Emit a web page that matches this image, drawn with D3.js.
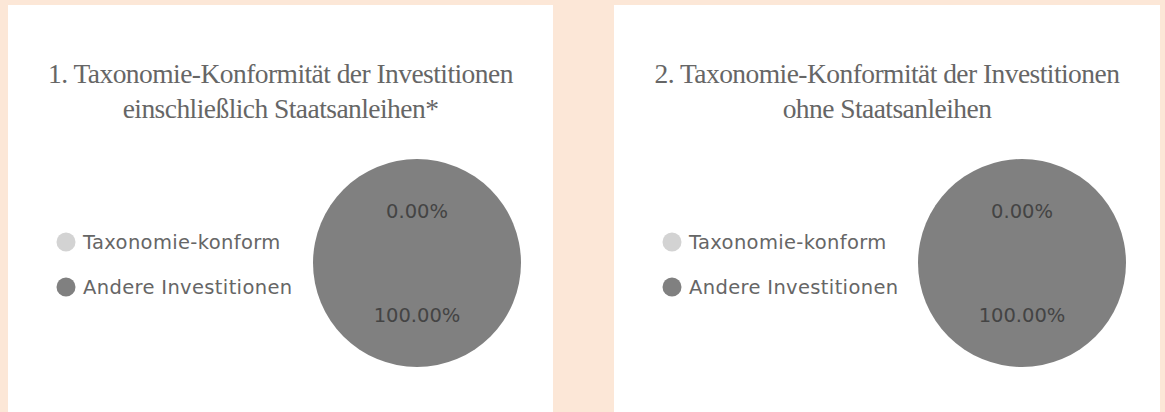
<!DOCTYPE html>
<html>
<head>
<meta charset="utf-8">
<script src="https://cdn.jsdelivr.net/npm/d3@7"></script>
<style>
  html, body { margin: 0; padding: 0; background: #fce7d7; }
  svg { display: block; }
</style>
</head>
<body>
<svg id="chart" width="1165" height="412"></svg>
<script>
// ---- data ----
const categories = ["Taxonomie-konform", "Andere Investitionen"];
const colors = ["#d3d3d3", "#808080"];
const titles = [
  ["1. Taxonomie-Konformität der Investitionen", "einschließlich Staatsanleihen*"],
  ["2. Taxonomie-Konformität der Investitionen", "ohne Staatsanleihen"]
];
const valuesIncl = [0.00, 100.00];
const valuesExcl = [0.00, 100.00];
const seriesValues = [valuesIncl, valuesExcl];

// ---- layout ----
const W = 1165, H = 412;
const svg = d3.select("#chart");
svg.append("rect").attr("width", W).attr("height", H).attr("fill", "#fce7d7");

const panels = [
  { x: 8, y: 5, w: 545, h: 407 },
  { x: 614, y: 5, w: 546, h: 407 }
];

const radius = 104;
const pie = d3.pie().sort(null).value(d => d);
const arc = d3.arc().innerRadius(0).outerRadius(radius);
const color = d3.scaleOrdinal().domain(categories).range(colors);

panels.forEach((p, i) => {
  const g = svg.append("g").attr("transform", `translate(${p.x},${p.y})`);
  g.append("rect").attr("width", p.w).attr("height", p.h).attr("fill", "#ffffff");

  // title
  const t = g.append("text")
    .attr("x", p.w / 2)
    .attr("text-anchor", "middle")
    .attr("font-family", "'Liberation Serif', 'Times New Roman', serif")
    .attr("font-size", 27.5)
    .attr("letter-spacing", -0.55)
    .attr("fill", "#666666");
  titles[i].forEach((line, k) => {
    t.append("tspan").attr("x", p.w / 2).attr("y", 78 + k * 35).text(line);
  });

  // legend
  const lg = g.append("g").attr("transform", "translate(58,237)");
  categories.forEach((c, k) => {
    const row = lg.append("g").attr("transform", `translate(0,${k * 45})`);
    row.append("circle").attr("cx", 0).attr("cy", 0).attr("r", 9.5).attr("fill", color(c));
    row.append("text")
      .attr("x", 17).attr("y", 0).attr("dy", "0.35em")
      .attr("font-family", "'DejaVu Sans', Verdana, sans-serif")
      .attr("font-size", 19.5)
      .attr("letter-spacing", 0.35)
      .attr("fill", "#666666")
      .text(c);
  });

  // pie
  const cx = (i === 0 ? 417 : 1022) - p.x;
  const cy = 263 - p.y;
  const pg = g.append("g").attr("transform", `translate(${cx},${cy})`);
  const arcs = pie(seriesValues[i]);
  pg.selectAll("path").data(arcs).join("path")
    .attr("d", arc)
    .attr("fill", (d, k) => color(categories[k]));
  pg.selectAll("text").data(arcs).join("text")
    .attr("transform", d => `translate(${arc.centroid(d)})`)
    .attr("text-anchor", "middle")
    .attr("dy", "0.35em")
    .attr("font-family", "'DejaVu Sans', Verdana, sans-serif")
    .attr("font-size", 19.5)
    .attr("fill", "#444444")
    .text(d => d.data.toFixed(2) + "%");
});
</script>
</body>
</html>
